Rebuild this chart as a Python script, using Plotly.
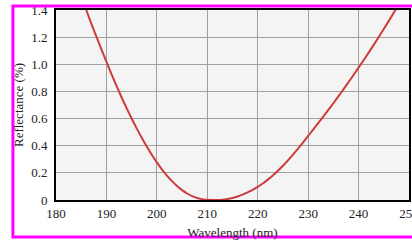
import plotly.graph_objects as go

wavelength_nm = list(range(184, 251))
reflectance_pct = [
    1.61, 1.505, 1.40, 1.30, 1.205, 1.11, 1.018, 0.928, 0.841, 0.757,  # 184-193
    0.677, 0.601, 0.528, 0.459, 0.394, 0.333, 0.277, 0.226, 0.18, 0.139,  # 194-203
    0.103, 0.073, 0.048, 0.029, 0.015, 0.006, 0.001, 0.0, 0.0, 0.002,  # 204-213
    0.007, 0.015, 0.026, 0.04, 0.056, 0.075, 0.097, 0.122, 0.15, 0.181,  # 214-223
    0.215, 0.252, 0.292, 0.334, 0.378, 0.424, 0.472, 0.519, 0.567, 0.615,  # 224-233
    0.664, 0.713, 0.763, 0.815, 0.868, 0.921, 0.975, 1.03, 1.086, 1.143,  # 234-243
    1.201, 1.26, 1.32, 1.381, 1.443, 1.506, 1.57,  # 244-250
]
x_ticks = [180, 190, 200, 210, 220, 230, 240, 250]
y_ticks = [0, 0.2, 0.4, 0.6, 0.8, 1.0, 1.2, 1.4]
y_ticktext = ["0", "0.2", "0.4", "0.6", "0.8", "1.0", "1.2", "1.4"]

font = dict(family="Liberation Serif, Times New Roman, serif", size=13, color="#222")

fig = go.Figure()
fig.add_trace(go.Scatter(
    x=wavelength_nm, y=reflectance_pct, mode="lines",
    line=dict(color="rgb(205,60,60)", width=2, shape="spline"),
    hoverinfo="skip", showlegend=False, cliponaxis=True,
))

fig.update_layout(
    width=412, height=240,
    margin=dict(l=56, r=3, t=10, b=40),
    paper_bgcolor="white", plot_bgcolor="#f4f4f4",
    font=font,
    xaxis=dict(
        range=[180, 250], tickvals=x_ticks, ticktext=[str(v) for v in x_ticks],
        showgrid=True, gridcolor="#a0a0a0", gridwidth=1,
        showline=True, linecolor="black", linewidth=2, mirror=True,
        ticks="", zeroline=False, automargin=False, ticklabeloverflow="allow",
        title=dict(text="Wavelength (nm)", font=font, standoff=8),
    ),
    yaxis=dict(
        range=[0, 1.4], tickvals=y_ticks, ticktext=y_ticktext,
        showgrid=True, gridcolor="#a0a0a0", gridwidth=1,
        showline=True, linecolor="black", linewidth=2, mirror=True,
        ticks="", zeroline=False, automargin=False, ticklabelstandoff=4,
        title=dict(text="Reflectance (%)", font=dict(family=font["family"], size=13, color="#222"), standoff=5),
    ),
    shapes=[dict(
        type="rect", xref="paper", yref="paper",
        x0=-0.122, x1=1.02, y0=-0.195, y1=1.021,
        line=dict(color="#ff00ff", width=3), layer="above",
    )],
)

fig.write_html(
    "out.html",
    config={"displayModeBar": False, "staticPlot": True},
    post_script="document.body.style.margin='0';document.body.style.overflow='hidden';",
)
